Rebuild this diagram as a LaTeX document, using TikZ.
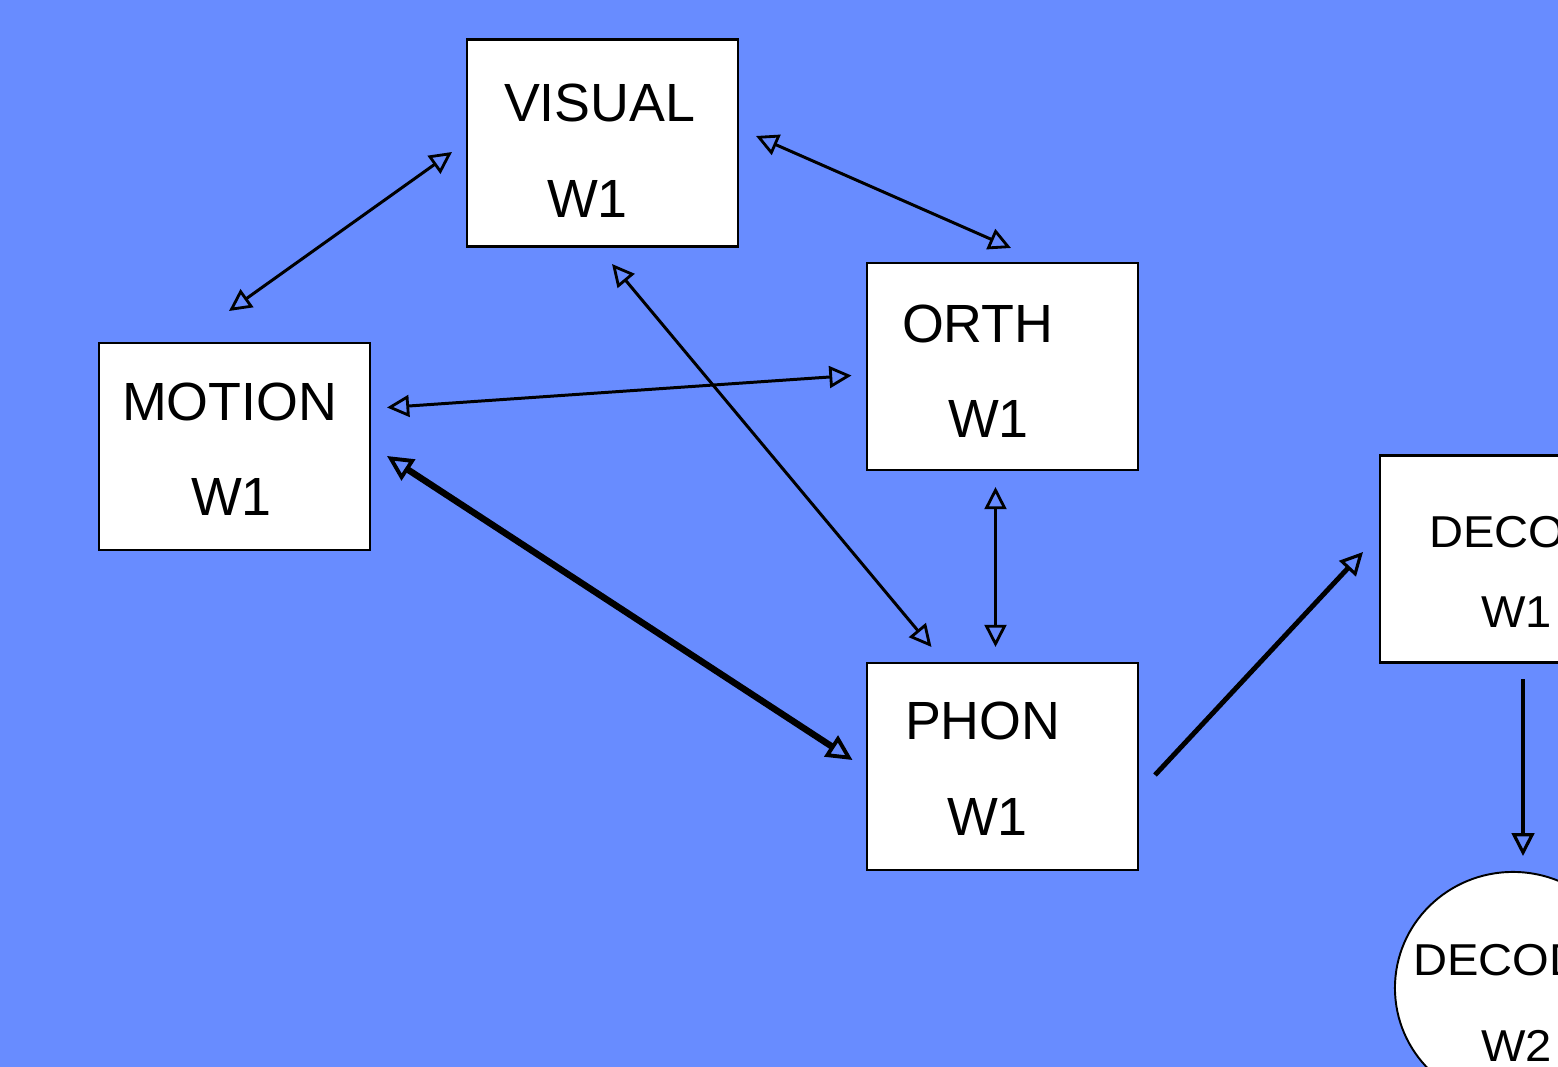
\documentclass[tikz,border=0pt]{standalone}
\usepackage{fontspec}
\setmainfont{Liberation Sans}
\newfontfamily\widefont[FakeStretch=1.055]{Liberation Sans}
\usetikzlibrary{arrows.meta,shapes.geometric}
\definecolor{bg}{RGB}{104,140,255}
\tikzset{
  tipthin/.tip={Triangle[open,length=6.3pt,width=6.2pt,line width=0.8pt]},
  tipthick/.tip={Triangle[open,length=7.3pt,width=7pt,line width=1.1pt]},
  tipmid/.tip={Triangle[open,length=6.5pt,width=6.4pt,line width=0.9pt]},
}
\begin{document}
\begin{tikzpicture}[x=0.01cm,y=-0.01cm,
  box/.style={draw=black, fill=white, line width=0.75pt, minimum width=2.71cm, minimum height=2.07cm, inner sep=0pt, outer sep=0pt},
  oval/.style={ellipse, draw=black, fill=white, line width=0.55pt, minimum width=2.36cm, minimum height=2.32cm, inner sep=0pt, outer sep=0pt},
  big/.style={font=\fontsize{15.3}{18}\selectfont, anchor=base west, inner sep=0pt, outer sep=0pt},
  small/.style={font=\widefont\fontsize{12.7}{15}\selectfont, anchor=base west, inner sep=0pt, outer sep=0pt},
  link/.style={line width=0.85pt, tipthin-tipthin},
  strong/.style={line width=1.85pt, tipthick-tipthick},
  feed/.style={line width=1.4pt, -tipmid},
  down/.style={line width=1.1pt, -tipmid},
]
\fill[bg] (0,0) rectangle (1558,1067);
\useasboundingbox (0,0) rectangle (1558,1067);
\clip (0,0) rectangle (1558,1067);

% boxes
\node[box] (visual) at (602.5,143) {};
\node[box] (orth) at (1002.5,366.5) {};
\node[box] (motion) at (234.5,446.5) {};
\node[box] (phon) at (1002.5,766.5) {};
\node[box] (deco1) at (1515.5,559) {};
\node[oval] (deco2) at (1513,988) {};

% labels
\node[big] (tvisual) at (504,122) {VISUAL};
\node[big] (wvisual) at (547,218) {W1};
\node[big] (tmotion) at (122,420) {MOTION};
\node[big] (wmotion) at (191,515) {W1};
\node[big] (torth) at (902,343) {ORTH};
\node[big] (worth) at (948,438) {W1};
\node[big] (tphon) at (905,739) {PHON};
\node[big] (wphon) at (947,835) {W1};
\node[small] (tdeco1) at (1429.5,547) {DECOD};
\node[small] (wdeco1) at (1481,627) {W1};
\node[small] (tdeco2) at (1413.5,975) {DECOD};
\node[small] (wdeco2) at (1481,1061) {W2};

% connector ends
\coordinate (mv1) at (229,311);
\coordinate (mv2) at (452,152);
\coordinate (vo1) at (756,136);
\coordinate (vo2) at (1011,248);
\coordinate (vp1) at (612,264);
\coordinate (vp2) at (931.5,647);
\coordinate (mo1) at (387,407.5);
\coordinate (mo2) at (851.5,375.5);
\coordinate (mp1) at (387,456);
\coordinate (mp2) at (852.5,760);
\coordinate (op1) at (995.5,487);
\coordinate (op2) at (995.5,647);
\coordinate (pd1) at (1155,775);
\coordinate (pd2) at (1363,552);
\coordinate (dd1) at (1523,679);
\coordinate (dd2) at (1523,856);

% connectors
\draw[link] (mv1) -- (mv2);
\draw[link] (vo1) -- (vo2);
\draw[link] (vp1) -- (vp2);
\draw[link] (mo1) -- (mo2);
\draw[strong] (mp1) -- (mp2);
\draw[link] (op1) -- (op2);
\draw[feed] (pd1) -- (pd2);
\draw[down] (dd1) -- (dd2);
\end{tikzpicture}
\end{document}
